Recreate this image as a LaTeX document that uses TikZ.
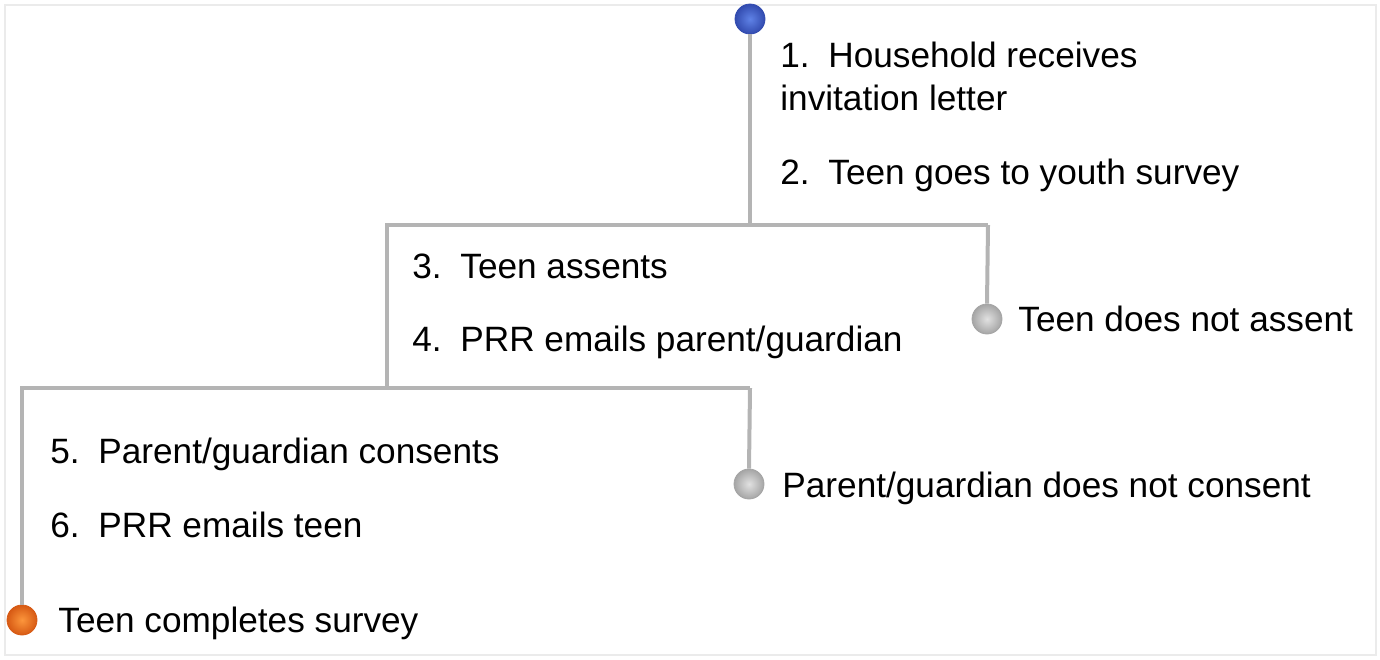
\documentclass[tikz,border=0pt]{standalone}
\usepackage{fontspec}
\setmainfont{Liberation Sans}
\usetikzlibrary{shapes.geometric}
\definecolor{stem}{HTML}{B4B4B4}
\definecolor{frame}{HTML}{EBEBEB}
\definecolor{bbluein}{RGB}{95,130,230}
\definecolor{bblueout}{RGB}{50,75,175}
\definecolor{bgrayin}{RGB}{225,225,225}
\definecolor{bgrayout}{RGB}{165,165,165}
\definecolor{borangein}{RGB}{252,150,60}
\definecolor{borangeout}{RGB}{215,90,20}
\tikzset{
  stemline/.style={draw=stem, line width=2pt, line join=miter},
  lbl/.style={anchor=base west, inner sep=0pt, font=\fontsize{17.6}{20}\selectfont},
  ball/.style={circle, inner sep=0pt, minimum size=15pt, line width=0.4pt},
  ballblue/.style={ball, inner color=bbluein, outer color=bblueout, draw=bblueout},
  ballgray/.style={ball, inner color=bgrayin, outer color=bgrayout, draw=bgrayout},
  ballorange/.style={ball, inner color=borangein, outer color=borangeout, draw=borangeout},
}
\newcommand{\numit}[2]{\makebox[24pt][l]{#1}#2}
\begin{document}
\begin{tikzpicture}[x=0.5pt,y=-0.5pt]
\useasboundingbox (0,0) rectangle (1380,659);
\draw[frame, line width=1pt] (5,5) rectangle (1376,655);
% junction coordinates
\coordinate (j1) at (750,225);
\coordinate (j1l) at (387,225);
\coordinate (j1r) at (988,225);
\coordinate (j2) at (387,388);
\coordinate (j2l) at (22,388);
\coordinate (j2r) at (750,388);
% balls
\node[ballblue] (start) at (750,19) {};
\node[ballgray] (noassent) at (987,319) {};
\node[ballgray] (noconsent) at (749,484) {};
\node[ballorange] (done) at (22,620) {};
% stems
\draw[stemline] (start.south) -- (j1);
\draw[stemline] (j1r) -- (j1l) -- (j2);
\draw[stemline] (j1r) -- (noassent.north);
\draw[stemline] (j2r) -- (j2l) -- (done.north);
\draw[stemline] (j2r) -- (noconsent.north);
% labels
\node[lbl] (t1) at (780,67) {\numit{1.}{Household receives}};
\node[lbl] (t1b) at (780,110) {invitation letter};
\node[lbl] (t2) at (780,184) {\numit{2.}{Teen goes to youth survey}};
\node[lbl] (t3) at (412,278) {\numit{3.}{Teen assents}};
\node[lbl] (t4) at (412,351) {\numit{4.}{PRR emails parent/guardian}};
\node[lbl] (tna) at (1018,331) {Teen does not assent};
\node[lbl] (t5) at (50,463) {\numit{5.}{Parent/guardian consents}};
\node[lbl] (t6) at (50,537) {\numit{6.}{PRR emails teen}};
\node[lbl] (tnc) at (782,497) {Parent/guardian does not consent};
\node[lbl] (tdone) at (58,632) {Teen completes survey};
\end{tikzpicture}
\end{document}
